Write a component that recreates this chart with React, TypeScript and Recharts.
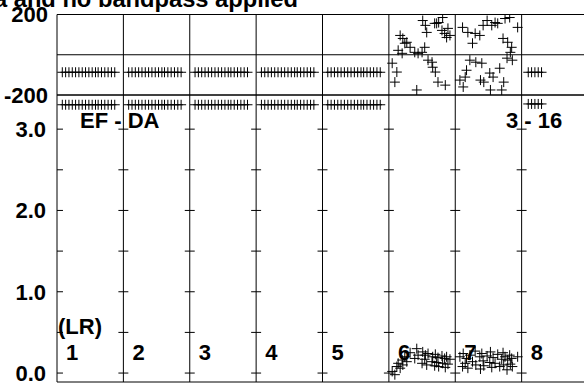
import { ReferenceLine, Scatter, ScatterChart, XAxis, YAxis } from "recharts";

const FONT = '"Liberation Sans", Arial, Helvetica, sans-serif';

// baseline columns, left to right
const baselines = ["1", "2", "3", "4", "5", "6", "7", "8"];

// sample times inside a column (fraction of the column width)
const steadyTimes = [0.08, 0.13, 0.18, 0.23, 0.28, 0.33, 0.38, 0.43, 0.48, 0.53, 0.58, 0.62, 0.67, 0.72, 0.77, 0.82, 0.87];
const steadyPhase = [-87, -87, -87, -87, -87];
const steadyAmp = [3.3, 3.3, 3.3, 3.3, 3.3];

const b6Times = [0.05, 0.09, 0.12, 0.14, 0.17, 0.2, 0.21, 0.24, 0.27, 0.32, 0.39, 0.42, 0.44, 0.5, 0.51, 0.54, 0.55, 0.57, 0.59, 0.65, 0.66, 0.69, 0.7, 0.72, 0.74, 0.75, 0.8, 0.81, 0.84, 0.85, 0.87, 0.89, 0.92];
const b6Phase = [-42, -136, -86, 22, 96, 7, 81, 57, 62, 37, 12, -175, 7, 12, 170, 37, 146, 111, -27, -37, -62, 156, -86, 156, -136, 160, 121, 185, 106, -151, 86, 131, 96];
const b6Amp = [0.02, -0.02, 0.08, 0.12, 0.06, 0.16, 0.1, 0.2, 0.14, 0.25, 0.18, 0.3, 0.22, 0.12, 0.26, 0.17, 0.22, 0.1, 0.24, 0.14, 0.2, 0.09, 0.23, 0.13, 0.19, 0.08, 0.21, 0.12, 0.18, 0.07, 0.2, 0.11, 0.17];

const b7Times = [0.07, 0.11, 0.12, 0.15, 0.17, 0.19, 0.22, 0.26, 0.3, 0.31, 0.37, 0.38, 0.4, 0.42, 0.43, 0.48, 0.52, 0.53, 0.55, 0.57, 0.6, 0.64, 0.67, 0.7, 0.72, 0.73, 0.75, 0.78, 0.79, 0.82, 0.83, 0.85, 0.86, 0.94];
const b7Phase = [-126, 136, -160, -111, -77, 111, -27, 57, 106, -37, 96, -126, -42, 146, -136, 170, -91, -175, 146, -111, 160, 156, -67, -175, 81, -136, 180, -17, 62, 185, 12, 37, -27, 136];
const b7Amp = [0.2, 0.08, 0.24, 0.12, 0.18, 0.06, 0.22, 0.14, 0.27, 0.1, 0.2, 0.05, 0.24, 0.15, 0.09, 0.21, 0.13, 0.26, 0.07, 0.19, 0.12, 0.23, 0.08, 0.17, 0.25, 0.1, 0.2, 0.04, 0.16, 0.22, 0.11, 0.18, 0.08, 0.2];

const b8Times = [0.1, 0.15, 0.2, 0.25, 0.3];
const b8Phase = [-87, -87, -87, -87, -87];
const b8Amp = [3.31, 3.31, 3.31, 3.31, 3.31];

// axis ticks
const colTicks = [0.31, 0.62, 0.93];
const phaseLabels = [-200, 200];
const ampLabels = [0, 1, 2, 3];
const ampMinor = [0, 0.5, 1, 1.5, 2, 2.5, 3];

type Pt = { x: number; phase: number; amp: number };
const points: Pt[] = [];
steadyPhase.forEach((ph, b) =>
  steadyTimes.forEach((t) => points.push({ x: b + t, phase: ph, amp: steadyAmp[b] })),
);
b6Times.forEach((t, i) => points.push({ x: 5 + t, phase: b6Phase[i], amp: b6Amp[i] }));
b7Times.forEach((t, i) => points.push({ x: 6 + t, phase: b7Phase[i], amp: b7Amp[i] }));
b8Times.forEach((t, i) => points.push({ x: 7 + t, phase: b8Phase[i], amp: b8Amp[i] }));

const xTicks = baselines.flatMap((_, c) => colTicks.map((f) => c + f));
const inner = [1, 2, 3, 4, 5, 6, 7];

const labelTick = { fill: "#000", fontSize: 22, fontWeight: "bold", fontFamily: FONT };
const black = { stroke: "#000", strokeWidth: 1 };

const Plus = (props: any) => {
  const { cx, cy } = props;
  if (cx == null || cy == null) return null;
  return <path d={`M${cx - 5},${cy}h10M${cx},${cy - 5}v10`} stroke="#000" strokeWidth={1} fill="none" />;
};

const W = 600;
const LEFT = 57;
const COL = (588 - LEFT) / 8;

export default function App() {
  return (
    <div
      style={{
        position: "absolute",
        left: 0,
        top: 0,
        width: 584,
        height: 385,
        overflow: "hidden",
        background: "#fff",
        fontFamily: FONT,
      }}
    >
      {/* amplitude panel */}
      <div style={{ position: "absolute", left: 0, top: 80 }}>
        <ScatterChart width={W} height={312} margin={{ top: 15, right: 12, bottom: 10, left: 0 }}>
          <XAxis
            dataKey="x"
            type="number"
            domain={[0, 8]}
            ticks={xTicks}
            interval={0}
            tick={false}
            tickSize={5}
            tickLine={black}
            axisLine={black}
            mirror
            allowDataOverflow
          />
          <XAxis
            xAxisId="top"
            dataKey="x"
            orientation="top"
            type="number"
            domain={[0, 8]}
            ticks={xTicks}
            interval={0}
            tick={false}
            tickSize={5}
            tickLine={black}
            axisLine={black}
            mirror
            allowDataOverflow
          />
          <YAxis
            dataKey="amp"
            type="number"
            domain={[-0.11, 3.42]}
            ticks={ampLabels}
            interval={0}
            width={LEFT}
            tickSize={0}
            tickMargin={11}
            tickLine={false}
            axisLine={black}
            tick={labelTick}
            tickFormatter={(v: number) => v.toFixed(1)}
            allowDataOverflow
          />
          {inner.map((i) => (
            <ReferenceLine key={`v${i}`} x={i} stroke="#000" strokeWidth={1} />
          ))}
          {inner.flatMap((i) =>
            ampMinor.map((v) => (
              <ReferenceLine
                key={`t${i}-${v}`}
                segment={[
                  { x: i - 0.075, y: v },
                  { x: i + 0.075, y: v },
                ]}
                stroke="#000"
                strokeWidth={1}
              />
            )),
          )}
          {ampMinor.map((v) => (
            <ReferenceLine
              key={`l${v}`}
              segment={[
                { x: 0, y: v },
                { x: 0.09, y: v },
              ]}
              stroke="#000"
              strokeWidth={1}
            />
          ))}
          <Scatter data={points} dataKey="amp" shape={Plus} isAnimationActive={false} />
        </ScatterChart>
      </div>

      {/* phase panel */}
      <div style={{ position: "absolute", left: 0, top: 0 }}>
        <ScatterChart width={W} height={110} margin={{ top: 14.5, right: 12, bottom: 15, left: 0 }}>
          <XAxis
            dataKey="x"
            type="number"
            domain={[0, 8]}
            ticks={xTicks}
            interval={0}
            tick={false}
            tickSize={5}
            tickLine={black}
            axisLine={black}
            mirror
            allowDataOverflow
          />
          <XAxis
            xAxisId="top"
            dataKey="x"
            orientation="top"
            type="number"
            domain={[0, 8]}
            ticks={xTicks}
            interval={0}
            tick={false}
            tickSize={4}
            tickLine={black}
            axisLine={black}
            mirror
            allowDataOverflow
          />
          <YAxis
            dataKey="phase"
            type="number"
            domain={[-200, 200]}
            ticks={phaseLabels}
            interval={0}
            width={LEFT}
            tickSize={0}
            tickMargin={9}
            tickLine={false}
            axisLine={black}
            tick={labelTick}
            allowDataOverflow
          />
          <ReferenceLine y={0} stroke="#000" strokeWidth={1} />
          {inner.map((i) => (
            <ReferenceLine key={`pv${i}`} x={i} stroke="#000" strokeWidth={1} />
          ))}
          <Scatter data={points} dataKey="phase" shape={Plus} isAnimationActive={false} />
        </ScatterChart>
      </div>

      {/* text annotations */}
      <svg
        width={584}
        height={385}
        style={{ position: "absolute", left: 0, top: 0, pointerEvents: "none" }}
        fontFamily={FONT}
        fontWeight="bold"
        fill="#000"
      >
        <text x={298} y={7} fontSize={23.7} textAnchor="end">
          data and no bandpass applied
        </text>
        <text x={80} y={128} fontSize={22}>
          EF - DA
        </text>
        <text x={506} y={128} fontSize={22}>
          3 - 16
        </text>
        <text x={58} y={334} fontSize={22}>
          (LR)
        </text>
        {baselines.map((b, i) => (
          <text key={b} x={LEFT + i * COL + 9} y={360} fontSize={22}>
            {b}
          </text>
        ))}
      </svg>
    </div>
  );
}
